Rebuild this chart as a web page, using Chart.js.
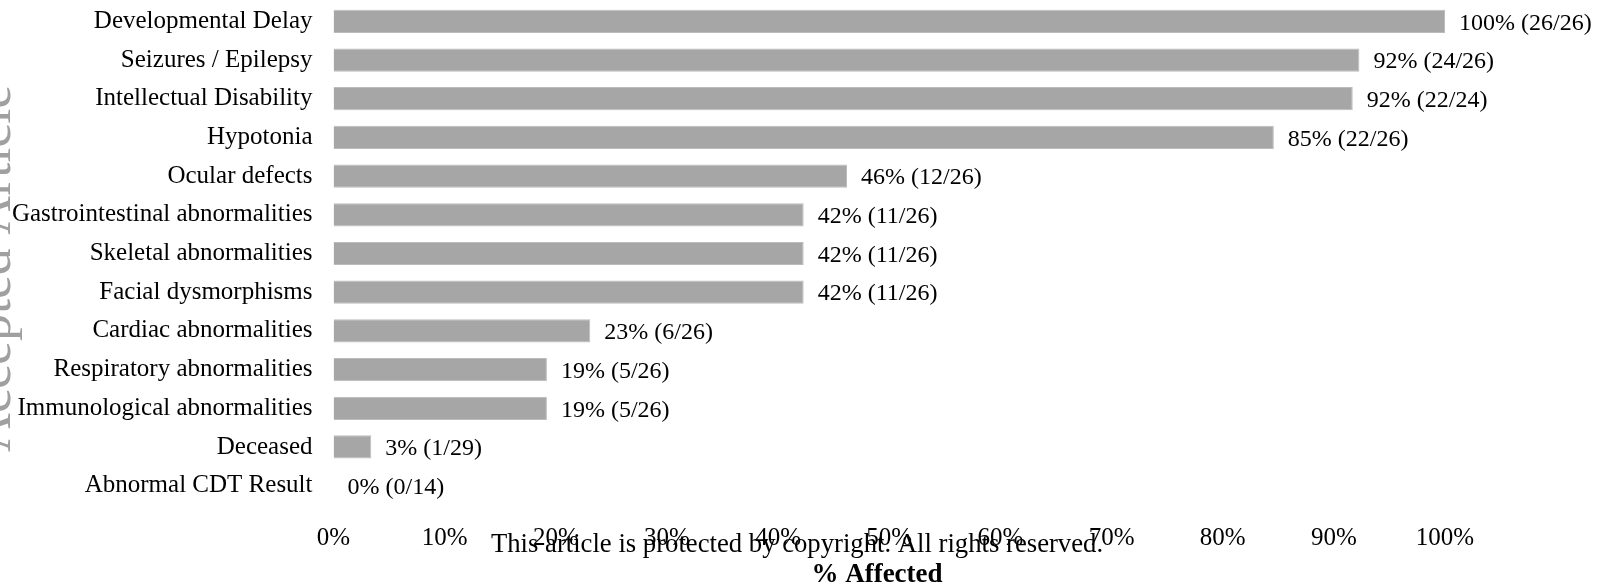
<!DOCTYPE html>
<html>
<head>
<meta charset="utf-8">
<script src="https://cdn.jsdelivr.net/npm/chart.js@4/dist/chart.umd.min.js"></script>
<style>
  html, body { margin: 0; padding: 0; background: #fff; }
  #wrap { width: 1604px; height: 587px; position: relative; }
</style>
</head>
<body>
<div id="wrap"><canvas id="featuresChart"></canvas></div>
<script>
const categories = [
  'Developmental Delay', 'Seizures / Epilepsy', 'Intellectual Disability', 'Hypotonia',
  'Ocular defects', 'Gastrointestinal abnormalities', 'Skeletal abnormalities',
  'Facial dysmorphisms', 'Cardiac abnormalities', 'Respiratory abnormalities',
  'Immunological abnormalities', 'Deceased', 'Abnormal CDT Result'
];
const percentAffected = [100, 92.3, 91.7, 84.6, 46.2, 42.3, 42.3, 42.3, 23.1, 19.2, 19.2, 3.4, 0];
const patientCounts = ['26/26', '24/26', '22/24', '22/26', '12/26', '11/26', '11/26', '11/26', '6/26', '5/26', '5/26', '1/29', '0/14'];
const xTicks = [0, 10, 20, 30, 40, 50, 60, 70, 80, 90, 100];

const serif = '"Liberation Serif", "Times New Roman", serif';

// value labels to the right of each bar
const barLabels = {
  id: 'barLabels',
  afterDatasetsDraw(chart) {
    const ctx = chart.ctx;
    const meta = chart.getDatasetMeta(0);
    ctx.save();
    ctx.font = '24px ' + serif;
    ctx.fillStyle = '#000';
    ctx.textAlign = 'left';
    ctx.textBaseline = 'middle';
    meta.data.forEach((bar, i) => {
      const txt = Math.round(percentAffected[i]) + '% (' + patientCounts[i] + ')';
      ctx.fillText(txt, bar.x + 14, bar.y + 2);
    });
    ctx.restore();
  }
};

// axis title, journal watermark + copyright line
const pageMarks = {
  id: 'pageMarks',
  afterDraw(chart) {
    const ctx = chart.ctx;
    ctx.save();
    ctx.translate(10, 452);
    ctx.rotate(-Math.PI / 2);
    ctx.font = '54px ' + serif;
    ctx.fillStyle = '#a0a0a0';
    ctx.textAlign = 'left';
    ctx.textBaseline = 'alphabetic';
    ctx.fillText('Accepted Article', 0, 0);
    ctx.restore();

    ctx.save();
    ctx.fillStyle = '#000';
    ctx.textAlign = 'center';
    ctx.textBaseline = 'middle';
    ctx.font = '26.7px ' + serif;
    ctx.fillText('This article is protected by copyright. All rights reserved.', 797, 545);
    ctx.font = 'bold 27px ' + serif;
    ctx.fillText('% Affected', 877, 575);
    ctx.restore();
  }
};

new Chart(document.getElementById('featuresChart'), {
  type: 'bar',
  data: {
    labels: categories,
    datasets: [{
      data: percentAffected,
      backgroundColor: '#a6a6a6',
      borderColor: '#bcbcbc',
      borderWidth: 1,
      barPercentage: 0.6,
      categoryPercentage: 1
    }]
  },
  options: {
    indexAxis: 'y',
    responsive: true,
    maintainAspectRatio: false,
    animation: false,
    layout: { padding: { top: 2, right: 159, left: 0, bottom: 0 } },
    plugins: {
      legend: { display: false },
      tooltip: { enabled: false }
    },
    scales: {
      y: {
        grid: { display: false, drawTicks: false },
        border: { display: false },
        ticks: {
          color: '#000',
          padding: 21,
          font: { family: serif, size: 25 }
        },
        afterFit(scale) {
          scale.width = 333.5;
          scale.paddingTop = 0;
          scale.paddingBottom = 0;
        }
      },
      x: {
        min: 0,
        max: 100,
        grid: { display: false, drawTicks: false },
        border: { display: false },
        afterBuildTicks(scale) { scale.ticks = xTicks.map(v => ({ value: v })); },
        ticks: {
          color: '#000',
          padding: 18,
          maxRotation: 0,
          font: { family: serif, size: 25 },
          callback: v => v + '%'
        },
        afterFit(scale) { scale.height = 82; }
      }
    }
  },
  plugins: [barLabels, pageMarks]
});
</script>
</body>
</html>
